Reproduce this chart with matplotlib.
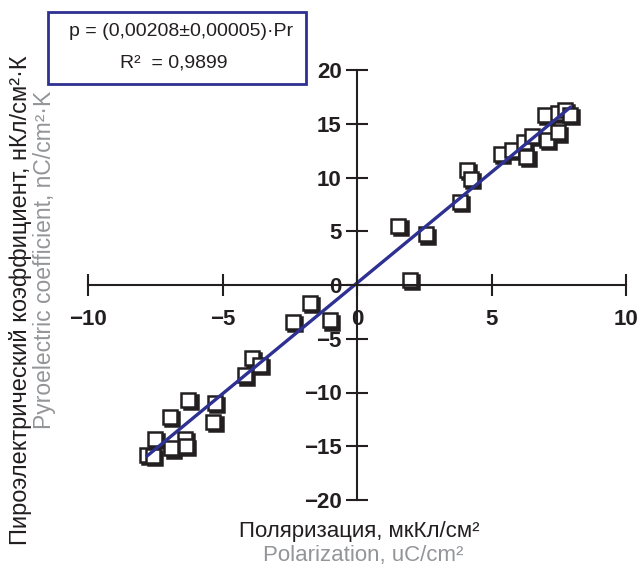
import matplotlib.pyplot as plt
import matplotlib.transforms as mtransforms
from matplotlib.patches import Rectangle
import numpy as np

plt.rcParams['font.family'] = ['Liberation Sans', 'DejaVu Sans']

# Polarization (uC/cm^2) vs pyroelectric coefficient (nC/cm^2 K)
pr = [1.54, 1.97, 2.57, 3.83, 4.09, 4.24, 5.34, 5.76, 6.20, 6.30, 6.49, 7.06, 6.99, 7.47,
      7.47, 7.73, 7.92,
      -2.37, -1.75, -1.00, -3.91, -3.60, -4.16, -6.27, -5.28, -6.95, -5.34, -7.51, -6.39,
      -7.80, -7.60, -6.90, -6.36]
p = [5.5, 0.5, 4.7, 7.7, 10.7, 9.9, 12.2, 12.6, 13.3, 11.9, 13.9, 13.5, 15.8, 14.2,
     16.0, 16.3, 15.8,
     -3.4, -1.7, -3.3, -6.8, -7.4, -8.4, -10.7, -11.0, -12.3, -12.7, -14.3, -14.3,
     -15.8, -15.9, -15.2, -15.0]

x_ticks = [-10, -5, 0, 5, 10]
y_ticks = [-20, -15, -10, -5, 0, 5, 10, 15, 20]

dark = '#231f20'
grey = '#939598'
blue = '#2e3192'

fig = plt.figure(figsize=(6.4, 5.71), dpi=100)
ax = fig.add_axes([88 / 640, 1 - 500 / 571, 538 / 640, 430 / 571])

# squares with a small drop shadow
shadow = mtransforms.offset_copy(ax.transData, fig=fig, x=2.2, y=-2.2, units='dots')
ax.plot(pr, p, 's', ms=10, mfc=dark, mec=dark, mew=1.8, transform=shadow, clip_on=False)
ax.plot(pr, p, 's', ms=10, mfc='white', mec=dark, mew=1.8, clip_on=False)

k, b = np.polyfit(pr, p, 1)
xs = np.array([min(pr), max(pr)])
ax.plot(xs, k * xs + b, color=blue, lw=2.4)

ax.set_xlim(-10, 10)
ax.set_ylim(-20, 20)
ax.spines['left'].set_position(('data', 0))
ax.spines['bottom'].set_position(('data', 0))
ax.spines['top'].set_visible(False)
ax.spines['right'].set_visible(False)
for s in ['left', 'bottom']:
    ax.spines[s].set_linewidth(1.5)
    ax.spines[s].set_color(dark)
ax.set_xticks(x_ticks)
ax.set_yticks(y_ticks)
ax.set_xticklabels([str(t).replace('-', '\u2212') for t in x_ticks])
ax.set_yticklabels([str(t).replace('-', '\u2212') for t in y_ticks])
ax.tick_params(direction='inout', length=16, width=1.5, color=dark,
               labelsize=16, labelcolor=dark)
ax.tick_params(axis='x', pad=9)
ax.tick_params(axis='y', pad=3)
for lab in ax.get_xticklabels() + ax.get_yticklabels():
    lab.set_fontweight('bold')

# equation box
fig.patches.append(Rectangle((48 / 640, 1 - 84 / 571), 258 / 640, 72 / 571,
                             transform=fig.transFigure, fill=False,
                             edgecolor=blue, lw=2))
fig.text(181 / 640, 1 - 31 / 571, 'p = (0,00208\u00b10,00005)\u00b7Pr',
         ha='center', va='center', fontsize=14, color=dark)
fig.text(174 / 640, 1 - 63 / 571, 'R\u00b2  = 0,9899',
         ha='center', va='center', fontsize=14, color=dark)

# axis titles
fig.text(359 / 640, 1 - 531 / 571, 'Поляризация, мкКл/см\u00b2',
         ha='center', va='center', fontsize=16, color=dark)
fig.text(363 / 640, 1 - 556 / 571, 'Polarization, uC/cm\u00b2',
         ha='center', va='center', fontsize=16, color=grey)
fig.text(21 / 640, 1 - 300 / 571, 'Пироэлектрический коэффициент, нКл/см\u00b2\u00b7К',
         ha='center', va='center', rotation=90, fontsize=17, color=dark)
fig.text(45 / 640, 1 - 260 / 571, 'Pyroelectric coefficient, nC/cm\u00b2\u00b7K',
         ha='center', va='center', rotation=90, fontsize=16.5, color=grey)

fig.savefig('out.png', dpi=100)
